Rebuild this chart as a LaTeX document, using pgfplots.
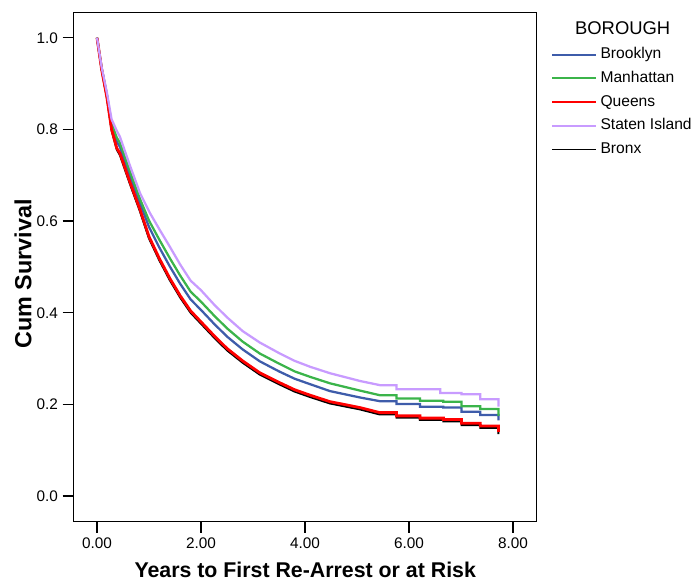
\documentclass[border=0pt]{standalone}
\usepackage{pgfplots}
\pgfplotsset{compat=1.18}
\usepackage{fontspec}
\setmainfont{Liberation Sans}
\definecolor{cBrook}{RGB}{62,92,170}
\definecolor{cMan}{RGB}{59,180,74}
\definecolor{cQue}{RGB}{255,0,0}
\definecolor{cStat}{RGB}{200,155,255}
\begin{document}
\begin{tikzpicture}
\path[use as bounding box] (0,0) rectangle (522pt,438pt);
\begin{axis}[
  at={(55.3pt,46.7pt)}, anchor=south west,
  scale only axis, width=347.25pt, height=381.75pt,
  xmin=-0.448, xmax=8.456, ymin=-0.056, ymax=1.0546,
  clip=false,
  axis line style={line width=1.1pt},
  tick align=outside, major tick length=8.25pt,
  xtick pos=lower, ytick pos=left,
  tick style={line width=0.9pt, black},
  xtick={0,2,4,6,8}, ytick={0,0.2,0.4,0.6,0.8,1},
  /pgf/number format/assume math mode=true,
  xticklabel style={/pgf/number format/.cd, fixed, fixed zerofill, precision=2},
  yticklabel style={/pgf/number format/.cd, fixed, fixed zerofill, precision=1},
  ticklabel style={font=\fontsize{11.5}{13}\selectfont},
  xlabel={Years to First Re-Arrest or at Risk},
  ylabel={Cum Survival},
  xlabel style={font=\fontsize{16}{18}\selectfont\bfseries, at={(axis description cs:0.5,-0.0948)}, anchor=center},
  ylabel style={font=\fontsize{17.5}{19}\selectfont\bfseries, at={(axis description cs:-0.1094,0.4869)}, anchor=center},
  legend style={at={(1.031,0.9326)}, anchor=north west, draw=none, fill=none, inner sep=0pt,
    row sep=6.8pt, font=\fontsize{11.7}{13}\selectfont,
    nodes={inner xsep=2.5pt, inner ysep=0pt, text height=8.5pt, text depth=2.5pt, anchor=west},
    /tikz/every even column/.append style={column sep=2.5pt}},
  legend cell align=left,
  legend image code/.code={\draw[#1, line width=1.4pt] (0pt,0pt) -- (33pt,0pt);},
]
% Bronx drawn first (under Queens)
\addplot[black, line width=1.5pt, forget plot] coordinates {
(0,1.000) (0.09,0.930) (0.19,0.869) (0.28,0.798) (0.38,0.756) (0.44,0.744)
(0.63,0.682) (0.83,0.620) (1.00,0.562) (1.20,0.514) (1.40,0.471) (1.60,0.433)
(1.80,0.400) (2.00,0.376) (2.25,0.346) (2.50,0.318) (2.80,0.291) (3.13,0.265)
(3.50,0.244) (3.80,0.228) (4.10,0.216) (4.48,0.202) (5.06,0.189) (5.44,0.178)
(5.76,0.178) (5.76,0.171) (6.21,0.171) (6.21,0.166) (6.66,0.166) (6.66,0.163)
(7.01,0.163) (7.01,0.155) (7.37,0.155) (7.37,0.149) (7.72,0.149) (7.72,0.135)};
\addplot[cBrook, line width=1.7pt] coordinates {
(0,1.000) (0.09,0.932) (0.19,0.874) (0.28,0.808) (0.38,0.773) (0.44,0.762)
(0.63,0.700) (0.83,0.638) (1.00,0.587) (1.20,0.542) (1.40,0.501) (1.60,0.463)
(1.80,0.429) (2.00,0.406) (2.25,0.376) (2.50,0.348) (2.80,0.320) (3.13,0.294)
(3.50,0.272) (3.80,0.256) (4.10,0.244) (4.48,0.229) (5.06,0.215) (5.44,0.207)
(5.76,0.207) (5.76,0.201) (6.21,0.201) (6.21,0.195) (6.66,0.195) (6.66,0.193)
(7.01,0.193) (7.01,0.184) (7.37,0.184) (7.37,0.177) (7.72,0.177) (7.72,0.165)};
\addlegendentry{Brooklyn}
\addplot[cMan, line width=1.7pt] coordinates {
(0,1.000) (0.09,0.933) (0.19,0.876) (0.28,0.813) (0.38,0.782) (0.44,0.771)
(0.63,0.709) (0.83,0.647) (1.00,0.601) (1.20,0.559) (1.40,0.519) (1.60,0.481)
(1.80,0.446) (2.00,0.424) (2.25,0.394) (2.50,0.366) (2.80,0.337) (3.13,0.311)
(3.50,0.289) (3.80,0.272) (4.10,0.260) (4.48,0.246) (5.06,0.230) (5.44,0.220)
(5.76,0.220) (5.76,0.213) (6.21,0.213) (6.21,0.208) (6.66,0.208) (6.66,0.206)
(7.01,0.206) (7.01,0.196) (7.37,0.196) (7.37,0.190) (7.72,0.190) (7.72,0.175)};
\addlegendentry{Manhattan}
\addplot[cQue, line width=2.1pt] coordinates {
(0,1.000) (0.09,0.930) (0.19,0.870) (0.28,0.800) (0.38,0.759) (0.44,0.748)
(0.63,0.686) (0.83,0.624) (1.00,0.566) (1.20,0.518) (1.40,0.475) (1.60,0.437)
(1.80,0.404) (2.00,0.380) (2.25,0.350) (2.50,0.322) (2.80,0.295) (3.13,0.269)
(3.50,0.248) (3.80,0.232) (4.10,0.220) (4.48,0.206) (5.06,0.193) (5.44,0.182)
(5.76,0.182) (5.76,0.175) (6.21,0.175) (6.21,0.170) (6.66,0.170) (6.66,0.167)
(7.01,0.167) (7.01,0.159) (7.37,0.159) (7.37,0.153) (7.72,0.153) (7.72,0.140)};
\addlegendentry{Queens}
\addplot[cStat, line width=1.7pt] coordinates {
(0,1.000) (0.09,0.935) (0.19,0.880) (0.28,0.822) (0.38,0.797) (0.44,0.784)
(0.63,0.722) (0.83,0.660) (1.02,0.617) (1.21,0.580) (1.40,0.544) (1.60,0.505)
(1.80,0.470) (2.00,0.449) (2.25,0.418) (2.50,0.390) (2.80,0.360) (3.13,0.335)
(3.50,0.312) (3.80,0.295) (4.10,0.282) (4.48,0.268) (5.06,0.251) (5.44,0.242)
(5.76,0.242) (5.76,0.233) (6.60,0.233) (6.60,0.225) (7.01,0.225) (7.01,0.222)
(7.37,0.222) (7.37,0.211) (7.72,0.211) (7.72,0.195)};
\addlegendentry{Staten Island}
\addlegendimage{black, line width=1.5pt}
\addlegendentry{Bronx}
\node[font=\fontsize{13.8}{15}\selectfont, anchor=base] at (axis description cs:1.1856,0.9563) {BOROUGH};
\end{axis}
\end{tikzpicture}
\end{document}
